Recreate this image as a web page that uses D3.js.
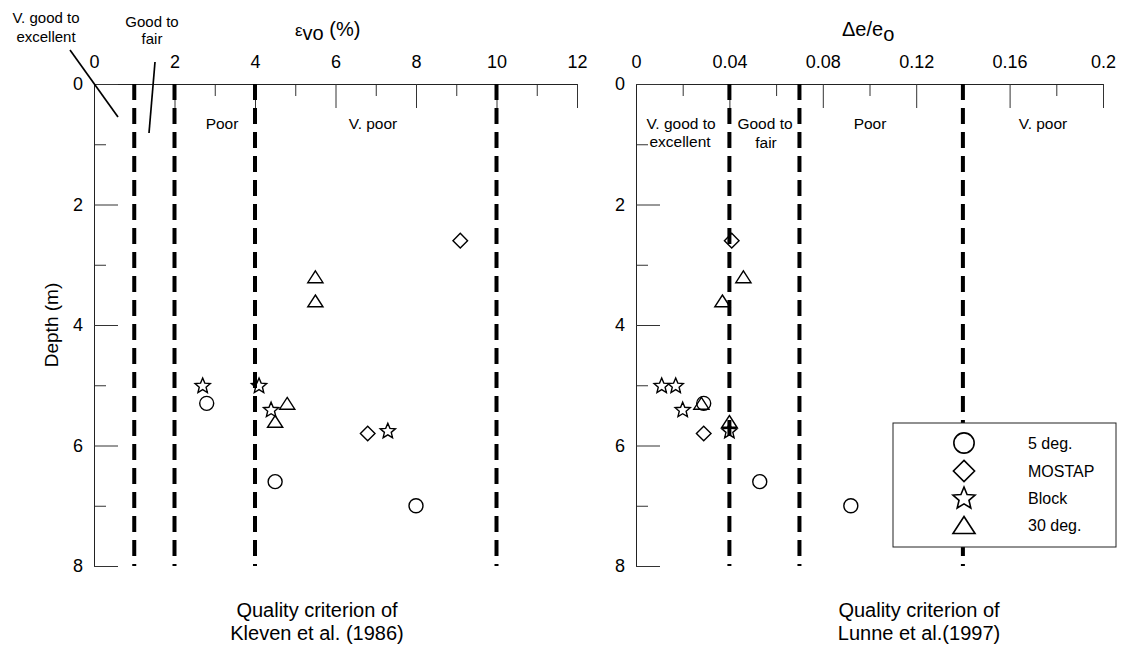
<!DOCTYPE html>
<html>
<head>
<meta charset="utf-8">
<script src="https://cdn.jsdelivr.net/npm/d3@7"></script>
<style>
  html, body { margin: 0; padding: 0; background: #fff; }
  svg { display: block; font-family: "Liberation Sans", Arial, Helvetica, sans-serif; }
</style>
</head>
<body>
<svg id="chart" width="1139" height="647"></svg>
<script>
// ---------------- DATA ----------------
const seriesNames = ["5 deg.", "MOSTAP", "Block", "30 deg."];
const seriesShapes = ["circle", "diamond", "star", "triangle"];

// Depths (m) for each series
const depth5deg   = [5.3, 6.6, 7.0];
const depthMostap = [2.6, 5.8];
const depthBlock  = [5.0, 5.0, 5.4, 5.75];
const depth30deg  = [3.2, 3.6, 5.3, 5.6];

// Left panel: volumetric strain eps_vo (%)  (Kleven et al. 1986)
const evo5deg   = [2.8, 4.5, 8.0];
const evoMostap = [9.1, 6.8];
const evoBlock  = [2.7, 4.1, 4.4, 7.3];
const evo30deg  = [5.5, 5.5, 4.8, 4.5];

// Right panel: delta e / e0  (Lunne et al. 1997)
const de5deg   = [0.029, 0.053, 0.092];
const deMostap = [0.041, 0.029];
const deBlock  = [0.011, 0.017, 0.020, 0.040];
const de30deg  = [0.046, 0.037, 0.028, 0.040];

// Axis ticks
const leftMajorTicks  = [0, 2, 4, 6, 8, 10, 12];
const leftMinorTicks  = [1, 3, 5, 7, 9, 11];
const rightMajorTicks = [0, 0.04, 0.08, 0.12, 0.16, 0.2];
const rightMinorTicks = [0.02, 0.06, 0.1, 0.14, 0.18];
const depthMajorTicks = [0, 2, 4, 6, 8];
const depthMinorTicks = [1, 3, 5, 7];

// Quality class boundaries
const leftBounds  = [1, 2, 4, 10];
const rightBounds = [0.04, 0.07, 0.14];

// ---------------- LAYOUT ----------------
const svg = d3.select("#chart");
const FONT = "\"Liberation Sans\", Arial, Helvetica, sans-serif";

const yScale  = d3.scaleLinear().domain([0, 8]).range([84, 566]);
const xLeft   = d3.scaleLinear().domain([0, 12]).range([94, 577]);
const xRight  = d3.scaleLinear().domain([0, 0.2]).range([636, 1103]);

function shapePath(shape, s) {
  // s = scale factor (1 for plot markers)
  const p = d3.path();
  if (shape === "circle") {
    const r = 7 * s;
    p.moveTo(r, 0); p.arc(0, 0, r, 0, 2 * Math.PI);
  } else if (shape === "diamond") {
    const h = 7.3 * s;
    p.moveTo(0, -h); p.lineTo(h, 0); p.lineTo(0, h); p.lineTo(-h, 0); p.closePath();
  } else if (shape === "triangle") {
    const w = 7.6 * s, h = 5.9 * s;
    p.moveTo(0, -h); p.lineTo(w, h); p.lineTo(-w, h); p.closePath();
  } else if (shape === "star") {
    const R = 8 * s, r = 3.6 * s;
    for (let i = 0; i < 10; i++) {
      const a = -Math.PI / 2 + i * Math.PI / 5;
      const rad = i % 2 === 0 ? R : r;
      const x = rad * Math.cos(a), y = rad * Math.sin(a) + 0.8 * s;
      if (i === 0) p.moveTo(x, y); else p.lineTo(x, y);
    }
    p.closePath();
  }
  return p.toString();
}

function drawPanel(x, majors, minors, bounds, series, fmt) {
  const g = svg.append("g");
  // top axis - minor ticks
  const minorAx = g.append("g").attr("transform", `translate(0,${yScale(0)})`)
    .call(d3.axisTop(x).tickValues(minors).tickSize(-12).tickFormat(""));
  minorAx.select(".domain").remove();
  // top axis - major
  const majorAx = g.append("g").attr("transform", `translate(0,${yScale(0)})`)
    .call(d3.axisTop(x).tickValues(majors).tickSize(-24).tickSizeOuter(0).tickPadding(16).tickFormat(fmt));
  // left axis - minor
  const yMinor = g.append("g").attr("transform", `translate(${x.range()[0]},0)`)
    .call(d3.axisLeft(yScale).tickValues(depthMinorTicks).tickSize(-12).tickFormat(""));
  yMinor.select(".domain").remove();
  const yMajor = g.append("g").attr("transform", `translate(${x.range()[0]},0)`)
    .call(d3.axisLeft(yScale).tickValues(depthMajorTicks).tickSize(-24).tickSizeOuter(0).tickPadding(11).tickFormat(d3.format("d")));

  g.selectAll(".domain").attr("stroke", "#222").attr("stroke-width", 1);
  g.selectAll(".tick line").attr("stroke", "#333").attr("stroke-width", 1);
  g.selectAll(".tick text").attr("font-size", 18).attr("font-family", FONT).attr("fill", "#000");

  // boundary dashed lines
  g.selectAll("line.bound").data(bounds).enter().append("line")
    .attr("class", "bound")
    .attr("x1", d => x(d)).attr("x2", d => x(d))
    .attr("y1", yScale(0)).attr("y2", yScale(8))
    .attr("stroke", "#000").attr("stroke-width", 4)
    .attr("stroke-dasharray", "16,8");

  // markers
  series.forEach((s, i) => {
    g.selectAll(null).data(s.values.map((v, j) => ({ v, d: s.depths[j] }))).enter()
      .append("path")
      .attr("d", shapePath(seriesShapes[i], 1))
      .attr("transform", d => `translate(${x(d.v)},${yScale(d.d)})`)
      .attr("fill", "none").attr("stroke", "#000").attr("stroke-width", 1.4);
  });
  return g;
}

drawPanel(xLeft, leftMajorTicks, leftMinorTicks, leftBounds, [
  { depths: depth5deg, values: evo5deg },
  { depths: depthMostap, values: evoMostap },
  { depths: depthBlock, values: evoBlock },
  { depths: depth30deg, values: evo30deg }
], d3.format("d"));

drawPanel(xRight, rightMajorTicks, rightMinorTicks, rightBounds, [
  { depths: depth5deg, values: de5deg },
  { depths: depthMostap, values: deMostap },
  { depths: depthBlock, values: deBlock },
  { depths: depth30deg, values: de30deg }
], d => d === 0 ? "0" : d3.format("~g")(d));

// ---------------- TEXT ----------------
function label(x, y, txt, size, anchor) {
  svg.append("text").attr("x", x).attr("y", y).attr("font-size", size)
    .attr("font-family", FONT).attr("text-anchor", anchor || "middle").text(txt);
}

// Titles
const t1 = svg.append("text").attr("x", 295).attr("y", 36).attr("font-size", 20).attr("font-family", FONT);
t1.append("tspan").attr("font-size", 17).text("ε");
t1.append("tspan").attr("dy", 4).text("vo");
t1.append("tspan").attr("dy", -4).text(" (%)");

const t2 = svg.append("text").attr("x", 842).attr("y", 36).attr("font-size", 20).attr("font-family", FONT);
t2.append("tspan").text("Δe/e");
t2.append("tspan").attr("dy", 4.5).text("o");

// Depth label
svg.append("text").attr("transform", "translate(58,325) rotate(-90)")
  .attr("font-size", 19).attr("font-family", FONT).attr("text-anchor", "middle").text("Depth (m)");

// Left region labels
label(46, 23, "V. good to", 15);
label(46, 42, "excellent", 15);
label(152, 27, "Good to", 15);
label(152, 44, "fair", 15);
label(222, 129, "Poor", 15.5);
label(373, 129, "V. poor", 15.5);

// leader lines
svg.append("line").attr("x1", 70).attr("y1", 50).attr("x2", 118).attr("y2", 117)
  .attr("stroke", "#000").attr("stroke-width", 1.7);
svg.append("line").attr("x1", 155).attr("y1", 62).attr("x2", 149).attr("y2", 133)
  .attr("stroke", "#000").attr("stroke-width", 1.7);

// Right region labels
label(681, 129, "V. good to", 15.5);
label(680, 147, "excellent", 15.5);
label(765, 129, "Good to", 15.5);
label(766, 148, "fair", 15.5);
label(870, 129, "Poor", 15.5);
label(1043, 129, "V. poor", 15.5);

// Captions
label(317, 617, "Quality criterion of", 20);
label(317, 640, "Kleven et al. (1986)", 20);
label(919, 617, "Quality criterion of", 20);
label(919, 640, "Lunne et al.(1997)", 20);

// ---------------- LEGEND ----------------
const leg = svg.append("g");
leg.append("rect").attr("x", 893).attr("y", 423).attr("width", 223).attr("height", 124)
  .attr("fill", "#fff").attr("stroke", "#222").attr("stroke-width", 1);
const legRows = [443, 471, 497.5, 525];
seriesNames.forEach((name, i) => {
  leg.append("path").attr("d", shapePath(seriesShapes[i], 1.45))
    .attr("transform", `translate(964,${legRows[i]})`)
    .attr("fill", "none").attr("stroke", "#000").attr("stroke-width", 1.6);
  leg.append("text").attr("x", 1028).attr("y", legRows[i] + 6).attr("font-size", 16)
    .attr("font-family", FONT).text(name);
});
</script>
</body>
</html>
